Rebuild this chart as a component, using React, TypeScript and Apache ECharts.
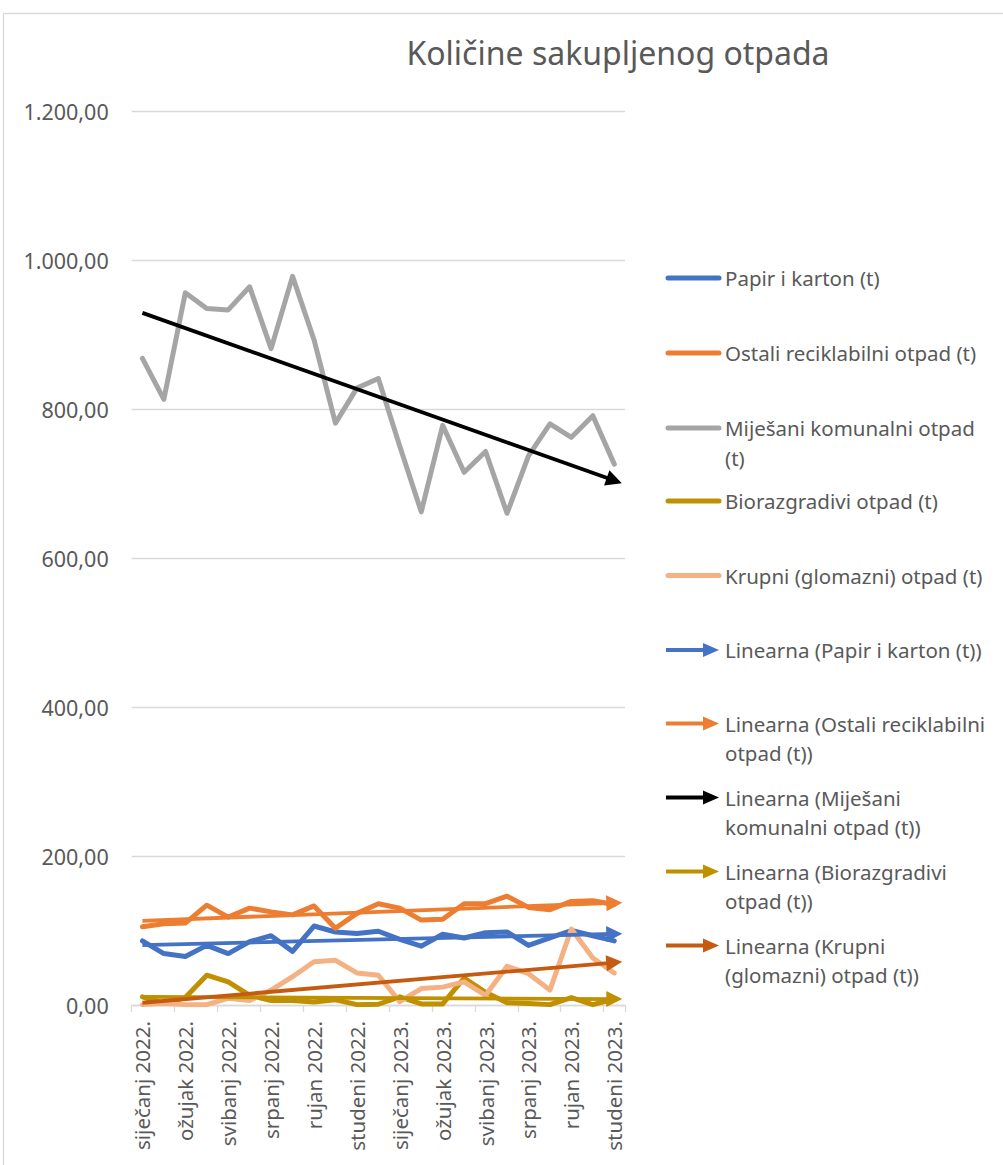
import React, { useEffect, useRef } from "react";
import * as echarts from "echarts";

const FONT = '"Noto Sans", "Open Sans", sans-serif';
const TEXT_COLOR = "#595959";
const GRID_COLOR = "#D9D9D9";

const categories = [
  "siječanj 2022.", "veljača 2022.", "ožujak 2022.", "travanj 2022.", "svibanj 2022.", "lipanj 2022.",
  "srpanj 2022.", "kolovoz 2022.", "rujan 2022.", "listopad 2022.", "studeni 2022.", "prosinac 2022.",
  "siječanj 2023.", "veljača 2023.", "ožujak 2023.", "travanj 2023.", "svibanj 2023.", "lipanj 2023.",
  "srpanj 2023.", "kolovoz 2023.", "rujan 2023.", "listopad 2023.", "studeni 2023.",
];

const seriesNames = [
  "Papir i karton (t)",
  "Ostali reciklabilni otpad (t)",
  "Miješani komunalni otpad (t)",
  "Biorazgradivi otpad (t)",
  "Krupni (glomazni) otpad (t)",
];

const papir = [86, 69, 65, 80, 69, 85, 93, 72, 106, 98, 96, 99, 88, 79, 95, 90, 97, 98, 80, 90, 100, 93, 86];
const ostali = [105, 109, 110, 134, 118, 130, 125, 121, 133, 103, 123, 136, 130, 114, 115, 136, 136, 146, 131, 128, 139, 140, 135];
const mijesani = [868, 813, 956, 935, 933, 964, 881, 978, 893, 781, 828, 841, 750, 662, 778, 715, 743, 660, 737, 780, 762, 791, 726];
const biorazgradivi = [11, 2, 10, 40, 31, 13, 6, 6, 4, 7, 0.5, 1, 11, 1.5, 1.5, 36, 17, 3, 2, 0.5, 10, 0.5, 8];
const krupni = [0.5, 2, 0.5, 0.5, 9, 6, 20, 38, 58, 60, 43, 40, 4.5, 22, 24, 31, 13, 52, 42, 20, 102, 63, 43];

// linear trend lines: value at first and at last month
const trendNames = [
  "Linearna (Papir i karton (t))",
  "Linearna (Ostali reciklabilni otpad (t))",
  "Linearna (Miješani komunalni otpad (t))",
  "Linearna (Biorazgradivi otpad (t))",
  "Linearna (Krupni (glomazni) otpad (t))",
];
const trendStart = [80.5, 113, 929, 11, 3];
const trendEnd = [95.5, 137, 704, 8, 57];

const yTicks = [0, 200, 400, 600, 800, 1000, 1200];

const seriesColors = ["#4472C4", "#ED7D31", "#A5A5A5", "#BF9000", "#F4B183"];
const trendColors = ["#4472C4", "#ED7D31", "#000000", "#BF9000", "#C55A11"];

const legendLabels = [
  "Papir i karton (t)",
  "Ostali reciklabilni otpad (t)",
  "Miješani komunalni otpad\n(t)",
  "Biorazgradivi otpad (t)",
  "Krupni (glomazni) otpad (t)",
  "Linearna (Papir i karton (t))",
  "Linearna (Ostali reciklabilni\notpad (t))",
  "Linearna (Miješani\nkomunalni otpad (t))",
  "Linearna (Biorazgradivi\notpad (t))",
  "Linearna (Krupni\n(glomazni) otpad (t))",
];
const legendY = [278, 353, 428, 501, 575.5, 650, 723.5, 797.5, 871.5, 945.5];

function fmt(v: number): string {
  const s = Math.round(v).toString().replace(/\B(?=(\d{3})+(?!\d))/g, ".");
  return s + ",00";
}

export default function App() {
  const ref = useRef<HTMLDivElement>(null);
  useEffect(() => {
    const chart = echarts.init(ref.current!, null, { renderer: "svg" });
    const values = [papir, ostali, mijesani, biorazgradivi, krupni];
    const lineSeries = values.map((d, i) => ({
      type: "line",
      name: seriesNames[i],
      data: d,
      symbol: "none",
      showSymbol: false,
      z: 2,
      lineStyle: { color: seriesColors[i], width: 5, cap: "round", join: "round" },
      itemStyle: { color: seriesColors[i] },
    }));
    const trendSeries = trendNames.map((n, i) => ({
      type: "lines",
      name: n,
      coordinateSystem: "cartesian2d",
      z: 3,
      symbol: ["none", "triangle"],
      symbolSize: [14, 16],
      lineStyle: { color: trendColors[i], width: 3.8, opacity: 1 },
      data: [{ coords: [[0, trendStart[i]], [categories.length - 1, trendEnd[i]]] }],
    }));

    const graphics: any[] = [
      {
        type: "rect",
        shape: { x: 3.5, y: 13.5, width: 1100, height: 1200 },
        style: { fill: "none", stroke: GRID_COLOR, lineWidth: 1.3 },
        silent: true,
      },
      {
        type: "text",
        x: 618,
        y: 52,
        style: {
          text: "Količine sakupljenog otpada",
          fontSize: 32,
          fontFamily: FONT,
          fill: TEXT_COLOR,
          align: "center",
          verticalAlign: "middle",
        },
      },
    ];
    legendLabels.forEach((label, k) => {
      const y = legendY[k];
      const isTrend = k >= 5;
      const color = isTrend ? trendColors[k - 5] : seriesColors[k];
      if (isTrend) {
        graphics.push({
          type: "line",
          shape: { x1: 666, y1: y, x2: 705, y2: y },
          style: { stroke: color, lineWidth: 3.8 },
        });
        graphics.push({
          type: "polygon",
          shape: { points: [[703, y - 7], [719, y], [703, y + 7]] },
          style: { fill: color },
        });
      } else {
        graphics.push({
          type: "line",
          shape: { x1: 668, y1: y, x2: 719, y2: y },
          style: { stroke: color, lineWidth: 5, lineCap: "round" },
        });
      }
      graphics.push({
        type: "text",
        x: 725,
        y: y - 14.75,
        style: {
          text: label,
          fontSize: 20.5,
          fontFamily: FONT,
          fill: TEXT_COLOR,
          lineHeight: 29.5,
          verticalAlign: "top",
          align: "left",
        },
      });
    });

    chart.setOption({
      animation: false,
      backgroundColor: "#ffffff",
      grid: { left: 131.7, right: 378, top: 111, bottom: 160, containLabel: false },
      xAxis: {
        type: "category",
        data: categories,
        boundaryGap: true,
        axisLine: { show: true, lineStyle: { color: GRID_COLOR, width: 1.3 } },
        axisTick: { show: true, interval: 1, length: 7, lineStyle: { color: GRID_COLOR, width: 1.3 } },
        axisLabel: {
          interval: 1,
          rotate: 90,
          margin: 16,
          fontSize: 20.5,
          fontFamily: FONT,
          color: TEXT_COLOR,
        },
      },
      yAxis: {
        type: "value",
        min: yTicks[0],
        max: yTicks[yTicks.length - 1],
        interval: 200,
        axisLine: { show: false },
        axisTick: { show: false },
        splitLine: { lineStyle: { color: GRID_COLOR, width: 1.3 } },
        axisLabel: {
          formatter: (v: number) => fmt(v),
          fontSize: 21.5,
          fontFamily: FONT,
          color: TEXT_COLOR,
          margin: 23,
        },
      },
      series: [...lineSeries, ...trendSeries],
      graphic: graphics,
    });
    return () => chart.dispose();
  }, []);
  return (
    <div
      ref={ref}
      style={{ position: "fixed", left: 0, top: 0, width: 1003, height: 1165, background: "#fff" }}
    />
  );
}
